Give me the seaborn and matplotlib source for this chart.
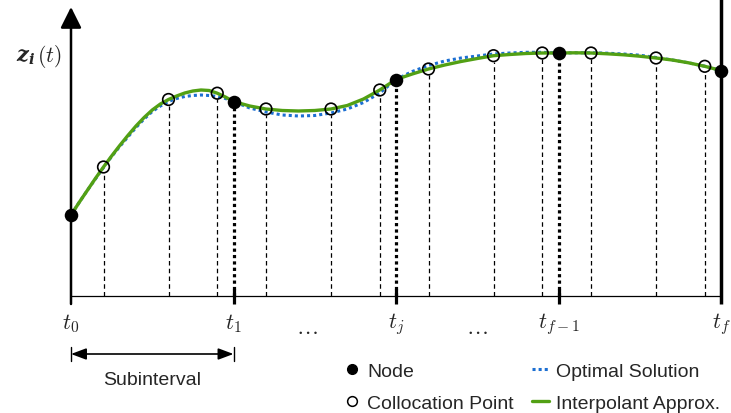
import numpy as np
import matplotlib
matplotlib.use("Agg")
import matplotlib.pyplot as plt
from matplotlib.lines import Line2D
import seaborn as sns

# Mesh nodes (interval boundaries) and the state value at each node
node_t = [0, 1, 2, 3, 4]
node_z = [81, 194.5, 216.5, 243, 225.5]
node_labels = [r"$t_0$", r"$t_1$", r"$t_j$", r"$t_{f-1}$", r"$t_f$"]

# Collocation points inside each subinterval
colloc_t = [0.2, 0.6, 0.9, 1.2, 1.6, 1.9, 2.2, 2.6, 2.9, 3.2, 3.6, 3.9]
colloc_z = [129, 196.5, 202.8, 187, 187, 206, 227, 240.3, 243, 243, 238, 229.7]

# Sampled trajectories (denser sampling over the first, most curved subinterval)
t_grid = [0.0, 0.05, 0.1, 0.15, 0.2, 0.25, 0.3, 0.35, 0.4, 0.45,
          0.5, 0.55, 0.6, 0.65, 0.7, 0.75, 0.8, 0.85, 0.9, 0.95,
          1.0, 1.1, 1.2, 1.3, 1.4, 1.5, 1.6, 1.7, 1.8, 1.9,
          2.0, 2.1, 2.2, 2.3, 2.4, 2.5, 2.6, 2.7, 2.8, 2.9,
          3.0, 3.1, 3.2, 3.3, 3.4, 3.5, 3.6, 3.7, 3.8, 3.9, 4.0]
interpolant_z = [81, 93.5, 105.5, 117.5, 129, 140, 150.5, 160.5, 170, 178.5,
                 186, 192, 196.5, 200, 203, 205, 206, 205.5, 202.8, 199,
                 194.5, 190, 187, 185.5, 185, 185.5, 187, 190.5, 197, 206,
                 216.5, 222, 227, 231, 234.5, 237.5, 240.3, 241.5, 242.5, 243,
                 243, 243.2, 243, 242.2, 241.2, 239.8, 238, 236, 233.2, 229.7, 225.5]
optimal_z = [81, 93.5, 105.5, 117, 128.5, 139.5, 149.5, 159, 168.5, 177,
             184.5, 190, 194.5, 197.5, 199.5, 200.5, 201, 200.5, 199.5, 197.5,
             194.5, 188, 184, 181, 180, 180.5, 183, 187, 193.5, 203,
             216.5, 224.5, 230.5, 235, 238, 240, 242, 243, 243.7, 243.7,
             243, 243.2, 243.2, 242.8, 242, 240.8, 238.5, 236, 233.2, 229.8, 225.5]

GREEN = "#52a014"
BLUE = "#1c6fd2"
TEXT = "#262626"

sns.set_theme(style="white")
plt.rcParams["font.family"] = ["Liberation Sans", "DejaVu Sans"]
plt.rcParams["mathtext.fontset"] = "cm"

fig = plt.figure(figsize=(7.31, 4.14), dpi=100)
ax = fig.add_axes([0, 0, 1, 1])
ax.set_xlim(-71 / 162.5, 660 / 162.5)
ax.set_ylim(-117, 297)
ax.axis("off")

# time axis and the closing boundary at t_f
ax.plot([0, 4], [0, 0], color="black", lw=0.9, zorder=2)
ax.plot([4, 4], [-8, 300], color="black", lw=2.5, solid_capstyle="butt", zorder=5)
ax.annotate("", xy=(0, 289), xytext=(0, -8),
            arrowprops=dict(arrowstyle="-|>,head_length=0.4,head_width=0.2",
                            mutation_scale=32, color="black", lw=1.8,
                            shrinkA=0, shrinkB=0), zorder=5)

# node guides: heavy dotted drop lines with a short solid tick on the axis
for t, z in zip(node_t[1:-1], node_z[1:-1]):
    ax.plot([t, t], [0, z], color="black", lw=2.3, linestyle=(0, (1, 1)),
            dash_capstyle="butt", zorder=3)
    ax.plot([t, t], [-8, 7], color="black", lw=2.3, solid_capstyle="butt", zorder=3)

# collocation guides
for t, z in zip(colloc_t, colloc_z):
    ax.plot([t, t], [0, z - 6], color="black", lw=0.9,
            linestyle=(0, (3.6, 2.6)), zorder=2)

sns.lineplot(x=t_grid, y=optimal_z, ax=ax, color=BLUE, lw=2.2,
             linestyle=(0, (1, 1)), dash_capstyle="butt", zorder=4)
sns.lineplot(x=t_grid, y=interpolant_z, ax=ax, color=GREEN, lw=2.4, zorder=4.5)

sns.scatterplot(x=colloc_t, y=colloc_z, ax=ax, s=70, marker="o", linewidth=1.2,
                zorder=6, legend=False)
ax.collections[-1].set_facecolor("none")
ax.collections[-1].set_edgecolor("black")
sns.scatterplot(x=node_t, y=node_z, ax=ax, s=95, color="black", linewidth=0,
                zorder=7, legend=False)

# axis labels
for t, lab in zip(node_t, node_labels):
    ax.text(t, -27, lab, ha="center", va="center", fontsize=16)
for t in [1.45, 2.5]:
    ax.text(t, -31, r"$\ldots$", ha="center", va="center", fontsize=16)
ax.text(-0.2215, 235, r"$\mathbfit{z}_{\mathbfit{i}}$", ha="right", va="baseline",
        fontsize=15, math_fontfamily="dejavuserif")
ax.text(-0.2123, 235, r"$(t)$", ha="left", va="baseline", fontsize=15.5)

# subinterval span
ax.annotate("", xy=(1, -58), xytext=(0, -58),
            arrowprops=dict(arrowstyle="<|-|>,head_length=0.4,head_width=0.15",
                            mutation_scale=23, color="black", lw=1.2,
                            shrinkA=0, shrinkB=0))
for t in [0, 1]:
    ax.plot([t, t], [-51, -65], color="black", lw=1.0)
ax.text(0.5, -84, "Subinterval", ha="center", va="center", fontsize=14, color=TEXT)

handles = [
    Line2D([], [], marker="o", color="black", linestyle="none", markersize=7),
    Line2D([], [], marker="o", markerfacecolor="none", markeredgecolor="black",
           linestyle="none", markersize=7, markeredgewidth=1.1),
    Line2D([], [], color=BLUE, lw=2.2, linestyle=(0, (1, 1)), dash_capstyle="butt"),
    Line2D([], [], color=GREEN, lw=2.4),
]
labels = ["Node", "Collocation Point", "Optimal Solution", "Interpolant Approx."]
leg = ax.legend(handles, labels, ncol=2, frameon=False, fontsize=14,
                handlelength=0.85, handletextpad=0.35, columnspacing=0.95,
                labelspacing=0.76, borderpad=0, borderaxespad=0,
                loc="center left", bbox_to_anchor=(344 / 731, 1 - 388 / 414),
                bbox_transform=fig.transFigure)
for txt in leg.get_texts():
    txt.set_color(TEXT)

fig.savefig("out.png", dpi=100)
